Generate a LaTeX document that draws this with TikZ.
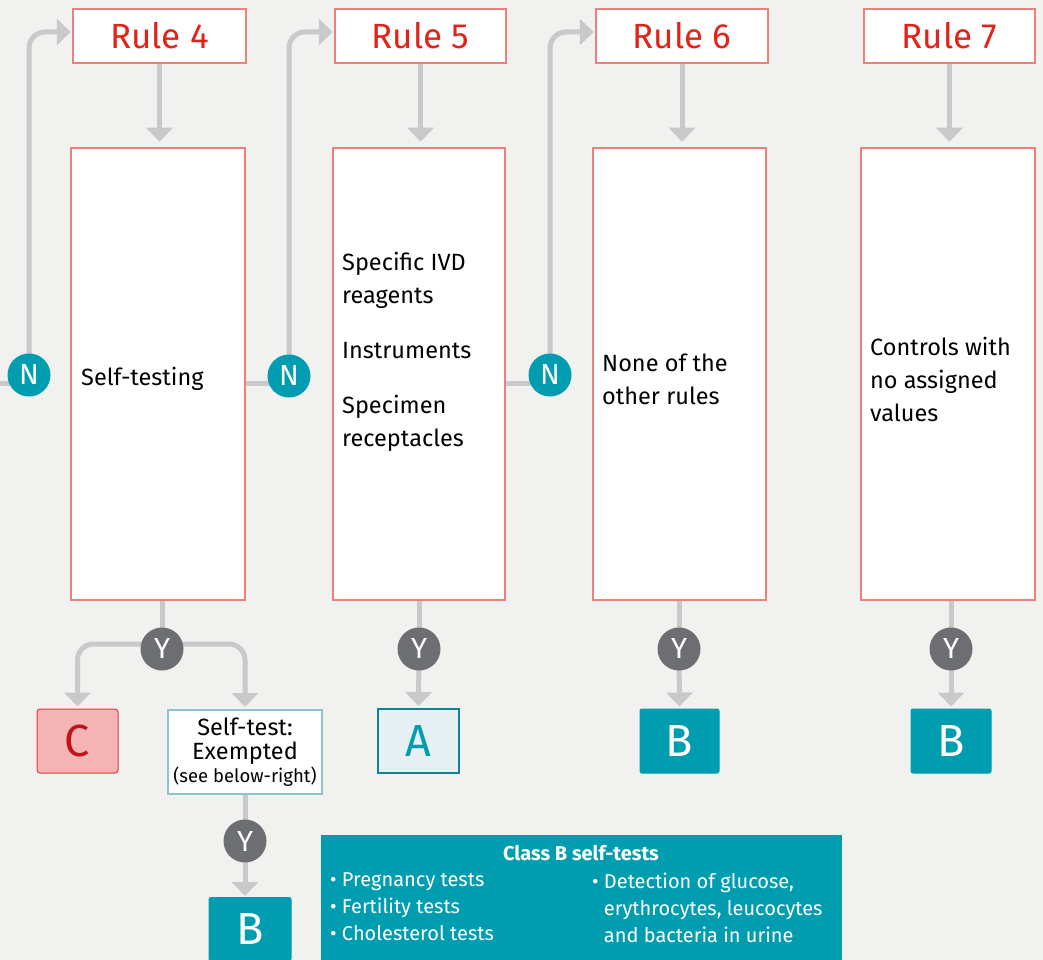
\documentclass[tikz,border=0pt]{standalone}
\usepackage{fontspec}
\setmainfont{Fira Sans}
\usetikzlibrary{arrows.meta}
\definecolor{bgc}{HTML}{F1F1EF}
\definecolor{salmon}{HTML}{EE7F7A}
\definecolor{rulered}{HTML}{E2231A}
\definecolor{conn}{HTML}{C8C9CB}
\definecolor{teal}{HTML}{009DB0}
\definecolor{darkteal}{HTML}{0A8593}
\definecolor{ygray}{HTML}{6D6E71}
\definecolor{cfill}{HTML}{F4B4B4}
\definecolor{cborder}{HTML}{E0393E}
\definecolor{ctext}{HTML}{C0141C}
\definecolor{afill}{HTML}{E6EFF2}
\definecolor{stborder}{HTML}{8DC4CC}
\pgfdeclarelayer{bg}
\pgfdeclarelayer{lines}
\pgfsetlayers{bg,lines,main}
\newcommand{\fs}[2]{\fontsize{#1}{#2}\selectfont}
\begin{document}
\begin{tikzpicture}[x=1pt,y=-1pt,
  rulebox/.style={draw=salmon,line width=2.5pt,fill=white,minimum height=54pt,inner sep=0pt,text=rulered,font=\fs{35}{40}},
  bigbox/.style={draw=salmon,line width=2.5pt,fill=white,minimum height=452pt,inner sep=0pt},
  boxtext/.style={anchor=west,align=left,inner sep=0pt,font=\fs{23.5}{33}},
  ncirc/.style={circle,fill=teal,text=white,minimum size=43pt,inner sep=0pt,font=\fs{29}{29}},
  ycirc/.style={circle,fill=ygray,text=white,minimum size=43pt,inner sep=0pt,font=\fs{29}{29}},
  classbox/.style={minimum width=80pt,minimum height=64pt,inner sep=0pt,font=\fs{45}{45}},
  tealbox/.style={classbox,fill=teal,draw=teal,line width=1pt,rounded corners=2pt,text=white},
  conline/.style={draw=conn,line width=5pt},
  conarrow/.style={conline,-{Triangle[width=26pt,length=14pt]}},
]
\clip (0,0) rectangle (1043,960);
\useasboundingbox (0,0) rectangle (1043,960);
\begin{pgfonlayer}{bg}
\fill[bgc] (0,0) rectangle (1043,960);
\end{pgfonlayer}

% rule title boxes
\node[rulebox,minimum width=173pt] (r4) at (159.5,36) {Rule 4};
\node[rulebox,minimum width=171pt] (r5) at (420.5,36) {Rule 5};
\node[rulebox,minimum width=172pt] (r6) at (682,36) {Rule 6};
\node[rulebox,minimum width=171pt] (r7) at (949.5,36) {Rule 7};

% big boxes
\node[bigbox,minimum width=174pt] (b4) at (158,374) {};
\node[bigbox,minimum width=172pt] (b5) at (419,374) {};
\node[bigbox,minimum width=173pt] (b6) at (679.5,374) {};
\node[bigbox,minimum width=174pt] (b7) at (948,374) {};

\node[boxtext] (t4) at (81,379) {Self-testing};
\node[boxtext,anchor=north west] (t5) at (342,252) {Specific IVD\\reagents\\[22pt]Instruments\\[22pt]Specimen\\receptacles};
\node[boxtext] (t6) at (602,379) {None of the\\other rules};
\node[boxtext] (t7) at (870,379) {Controls with\\no assigned\\values};

% N circles
\node[ncirc] (n4) at (29,375) {N};
\node[ncirc] (n5) at (289,376) {N};
\node[ncirc] (n6) at (550,375) {N};

% Y circles
\node[ycirc] (y4) at (162,649) {Y};
\node[ycirc] (y5) at (419,649) {Y};
\node[ycirc] (y6) at (679,649) {Y};
\node[ycirc] (y7) at (951,649) {Y};
\node[ycirc] (ys) at (245,841) {Y};

% class boxes
\node[classbox,fill=cfill,draw=cborder,line width=1pt,rounded corners=3pt,text=ctext,minimum width=81pt] (c) at (77.5,741) {C};
\node[draw=stborder,line width=2pt,fill=white,minimum width=154pt,minimum height=84pt,inner sep=0pt,align=center,font=\fs{23.5}{24}] (st) at (245,752) {Self-test:\\Exempted\\[-1pt]{\fs{18.5}{20}(see below-right)}};
\node[classbox,fill=afill,draw=darkteal,line width=2pt,text=teal,minimum width=81pt] (a5) at (418.5,741) {A};
\node[tealbox,minimum width=79pt] (b6c) at (679.5,741) {B};
\node[tealbox] (b7c) at (951,741) {B};
\node[tealbox,minimum width=82pt,minimum height=63pt,anchor=north] (bs) at (250,897) {B};

% class B self-tests box
\node[fill=teal,minimum width=521pt,minimum height=150pt,inner sep=0pt,anchor=north west] (cb) at (321,835) {};
\node[text=white,font=\fs{20}{22}\bfseries,inner sep=0pt] (cbt) at (581,853) {Class B self-tests};
\node[text=white,font=\fs{20}{27},align=left,anchor=north west,inner sep=0pt] (cbl) at (330,873) {• Pregnancy tests\\• Fertility tests\\• Cholesterol tests};
\node[text=white,font=\fs{20}{27},align=left,anchor=north west,inner sep=0pt] (cbr) at (592,873) {• Detection of glucose,\\\hphantom{• }erythrocytes, leucocytes\\\hphantom{• }and bacteria in urine};

\begin{pgfonlayer}{lines}
% rule title -> big box
\foreach \i in {4,5,6,7}{
  \draw[conarrow,shorten >=5pt] (r\i.south) -- (r\i.south |- b\i.north);
}
% N loops
\coordinate (leftend) at (0,383);
\draw[conline] (leftend) -- (n4 |- leftend);
\draw[conline] (b4.east |- leftend) -- (n5 |- leftend);
\draw[conline] (b5.east |- leftend) -- (n6 |- leftend);
\draw[conarrow,rounded corners=16pt,shorten >=1pt] (n4.center) |- ([yshift=4pt]r4.west);
\draw[conarrow,rounded corners=16pt,shorten >=1pt] (n5.center) |- ([yshift=4pt]r5.west);
\draw[conarrow,rounded corners=16pt,shorten >=1pt] (n6.center) |- ([yshift=4pt]r6.west);
% Y connectors
\draw[conline] (y4 |- b4.south) -- (y4.center);
\draw[conline] (y5 |- b5.south) -- (y5.center);
\draw[conline] (y6 |- b6.south) -- (y6.center);
\draw[conline] (y7 |- b7.south) -- (y7.center);
\draw[conarrow,rounded corners=16pt,shorten >=2pt] ([yshift=5pt]y4.center) -| (c.north);
\draw[conarrow,rounded corners=16pt,shorten >=2pt] ([yshift=5pt]y4.center) -| (st.north);
\draw[conarrow,shorten >=2pt] (y5.center) -- (a5.north);
\draw[conarrow,shorten >=2pt] (y6.center) -- (b6c.north);
\draw[conarrow,shorten >=2pt] (y7.center) -- (b7c.north);
\draw[conline] (st.south -| ys) -- (ys.center);
\draw[conarrow,shorten >=1pt] (ys.center) -- (ys |- bs.north);
\end{pgfonlayer}
\end{tikzpicture}
\end{document}
